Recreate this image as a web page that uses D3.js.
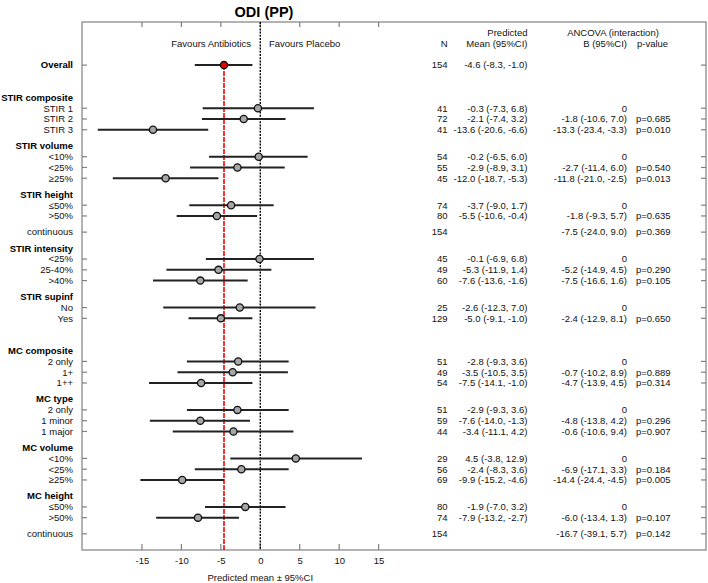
<!DOCTYPE html>
<html><head><meta charset="utf-8">
<script src="https://cdn.jsdelivr.net/npm/d3@7"></script>
<style>body{margin:0;background:#fff}svg{display:block;font-family:"Liberation Sans",Arial,sans-serif}</style>
</head><body><svg id="c" width="708" height="583"></svg>
<script>
// ---- data ----
const overallN = 154, overallMean = -4.6, overallLo = -8.3, overallHi = -1.0;
const overallText = "-4.6 (-8.3, -1.0)";
const groups = ["STIR composite","STIR volume","STIR height","STIR intensity","STIR supinf","MC composite","MC type","MC volume","MC height"];
const sectionStarts = ["STIR composite","MC composite"];
const rowGroup = ["STIR composite","STIR composite","STIR composite","STIR volume","STIR volume","STIR volume","STIR height","STIR height","STIR height","STIR intensity","STIR intensity","STIR intensity","STIR supinf","STIR supinf","MC composite","MC composite","MC composite","MC type","MC type","MC type","MC volume","MC volume","MC volume","MC height","MC height","MC height"];
const rowLabels = ["STIR 1","STIR 2","STIR 3","<10%","<25%","≥25%","≤50%",">50%","continuous","<25%","25-40%",">40%","No","Yes","2 only","1+","1++","2 only","1 minor","1 major","<10%","<25%","≥25%","≤50%",">50%","continuous"];
const nValues = [41,72,41,54,55,45,74,80,154,45,49,60,25,129,51,49,54,51,59,44,29,56,69,80,74,154];
const means = [-0.3,-2.1,-13.6,-0.2,-2.9,-12.0,-3.7,-5.5,null,-0.1,-5.3,-7.6,-2.6,-5.0,-2.8,-3.5,-7.5,-2.9,-7.6,-3.4,4.5,-2.4,-9.9,-1.9,-7.9,null];
const lower = [-7.3,-7.4,-20.6,-6.5,-8.9,-18.7,-9.0,-10.6,null,-6.9,-11.9,-13.6,-12.3,-9.1,-9.3,-10.5,-14.1,-9.3,-14.0,-11.1,-3.8,-8.3,-15.2,-7.0,-13.2,null];
const upper = [6.8,3.2,-6.6,6.0,3.1,-5.3,1.7,-0.4,null,6.8,1.4,-1.6,7.0,-1.0,3.6,3.5,-1.0,3.6,-1.3,4.2,12.9,3.6,-4.6,3.2,-2.7,null];
const bText = ["0","-1.8 (-10.6, 7.0)","-13.3 (-23.4, -3.3)","0","-2.7 (-11.4, 6.0)","-11.8 (-21.0, -2.5)","0","-1.8 (-9.3, 5.7)","-7.5 (-24.0, 9.0)","0","-5.2 (-14.9, 4.5)","-7.5 (-16.6, 1.6)","0","-2.4 (-12.9, 8.1)","0","-0.7 (-10.2, 8.9)","-4.7 (-13.9, 4.5)","0","-4.8 (-13.8, 4.2)","-0.6 (-10.6, 9.4)","0","-6.9 (-17.1, 3.3)","-14.4 (-24.4, -4.5)","0","-6.0 (-13.4, 1.3)","-16.7 (-39.1, 5.7)"];
const pText = ["","p=0.685","p=0.010","","p=0.540","p=0.013","","p=0.635","p=0.369","","p=0.290","p=0.105","","p=0.650","","p=0.889","p=0.314","","p=0.296","p=0.907","","p=0.184","p=0.005","","p=0.107","p=0.142"];
const xTicks = [-15,-10,-5,0,5,10,15];

// ---- layout of rows (in row units) ----
const fmt = v => (v<0?"-":"") + Math.abs(v).toFixed(1);
const rows = [];
const headers = [];
let pos = 4;
let prevGroup = null;
rowLabels.forEach((lab,i)=>{
  const g = rowGroup[i];
  if (g !== prevGroup) {
    pos += sectionStarts.includes(g) ? 4 : 2.5;
    headers.push({label:g, pos:pos-1});
    prevGroup = g;
  } else {
    pos += lab === "continuous" ? 1.5 : 1;
  }
  rows.push({label:lab, pos, n:nValues[i], mean:means[i], lo:lower[i], hi:upper[i],
    pred: means[i]==null ? "" : `${fmt(means[i])} (${fmt(lower[i])}, ${fmt(upper[i])})`,
    b:bText[i], p:pText[i]});
});
const overallPos = 4;
const bottomPos = pos + 1.5;

const svg = d3.select("#c");
const L = 82, R = 706, T = 22, B = 550;
const x = d3.scaleLinear().domain([-22.6, 56.5]).range([L, R]);
const y = d3.scaleLinear().domain([0, bottomPos]).range([T, B]);
const FS = 9.5;
const frameCol = "#808080";

// title
svg.append("text").attr("x", 264).attr("y", 12).attr("dy","0.35em").attr("text-anchor","middle")
  .attr("font-size",14.5).attr("font-weight","bold").text("ODI (PP)");

// frame
svg.append("rect").attr("x",L).attr("y",T).attr("width",R-L).attr("height",B-T)
  .attr("fill","none").attr("stroke",frameCol).attr("stroke-width",1.2);

// x ticks top and bottom (inward)
const gx = svg.append("g");
xTicks.forEach(t=>{
  gx.append("line").attr("x1",x(t)).attr("x2",x(t)).attr("y1",T).attr("y2",T+5).attr("stroke",frameCol).attr("stroke-width",1.2);
  gx.append("line").attr("x1",x(t)).attr("x2",x(t)).attr("y1",B).attr("y2",B-6).attr("stroke",frameCol).attr("stroke-width",1.2);
});
const axis = d3.axisBottom(x).tickValues(xTicks).tickSize(0).tickPadding(0).tickFormat(d=>String(d));
const ax = svg.append("g").attr("transform",`translate(0,${B+11})`).call(axis);
ax.select(".domain").remove();
ax.selectAll("text").attr("font-size",FS).attr("font-family","Liberation Sans, Arial, sans-serif").attr("fill","#111").attr("dy","0.35em");
svg.append("text").attr("x",x(0)).attr("y",578).attr("dy","0.35em").attr("text-anchor","middle")
  .attr("font-size",FS).attr("fill","#111").text("Predicted mean ± 95%CI");

// row ticks left and right
const allPos = [overallPos, ...rows.map(r=>r.pos)];
allPos.forEach(p=>{
  svg.append("line").attr("x1",L).attr("x2",L+5).attr("y1",y(p)).attr("y2",y(p)).attr("stroke",frameCol).attr("stroke-width",1.2);
  svg.append("line").attr("x1",R-5).attr("x2",R).attr("y1",y(p)).attr("y2",y(p)).attr("stroke",frameCol).attr("stroke-width",1.2);
});

// reference lines
svg.append("line").attr("x1",x(0)).attr("x2",x(0)).attr("y1",T).attr("y2",B)
  .attr("stroke","#000").attr("stroke-width",1.4).attr("stroke-dasharray","2,1.2");
svg.append("line").attr("x1",x(overallMean)).attr("x2",x(overallMean)).attr("y1",y(overallPos)).attr("y2",B)
  .attr("stroke","#ff0000").attr("stroke-width",1.6).attr("stroke-dasharray","5,1");

// header texts
const hdr = (tx,xx,yy,anchor)=>svg.append("text").attr("x",xx).attr("y",y(yy)).attr("dy","0.35em")
  .attr("text-anchor",anchor).attr("font-size",FS).attr("fill","#111").text(tx);
hdr("Favours Antibiotics", 251, 2, "end");
hdr("Favours Placebo", 269, 2, "start");
hdr("N", 447.5, 2, "end");
hdr("Predicted", 527.5, 1, "end");
hdr("Mean (95%CI)", 527.5, 2, "end");
hdr("ANCOVA (interaction)", 613, 1, "middle");
hdr("B (95%CI)", 627, 2, "end");
hdr("p-value", 637, 2, "start");

// row labels
svg.append("text").attr("x",73).attr("y",y(overallPos)).attr("dy","0.35em").attr("text-anchor","end")
  .attr("font-size",FS).attr("font-weight","bold").text("Overall");
headers.forEach(h=>{
  svg.append("text").attr("x",73).attr("y",y(h.pos)).attr("dy","0.35em").attr("text-anchor","end")
    .attr("font-size",FS).attr("font-weight","bold").text(h.label);
});
rows.forEach(r=>{
  svg.append("text").attr("x",73).attr("y",y(r.pos)).attr("dy","0.35em").attr("text-anchor","end")
    .attr("font-size",FS).attr("fill","#111").text(r.label);
});

// CI lines and points
const marks = [{pos:overallPos, mean:overallMean, lo:overallLo, hi:overallHi, overall:true}, ...rows.filter(r=>r.mean!=null)];
svg.append("g").selectAll("line").data(marks).join("line")
  .attr("x1",d=>x(d.lo)).attr("x2",d=>x(d.hi)).attr("y1",d=>y(d.pos)).attr("y2",d=>y(d.pos))
  .attr("stroke","#222").attr("stroke-width",2);
svg.append("g").selectAll("circle").data(marks).join("circle")
  .attr("cx",d=>x(d.mean)).attr("cy",d=>y(d.pos)).attr("r",3.6)
  .attr("fill",d=>d.overall?"#ee0000":"#a6a6a6").attr("stroke","#111").attr("stroke-width",1.3);

// text columns
const col = (tx,xx,p,anchor)=>svg.append("text").attr("x",xx).attr("y",y(p)).attr("dy","0.35em")
  .attr("text-anchor",anchor).attr("font-size",FS).attr("fill","#111").text(tx);
col(overallN, 447.5, overallPos, "end");
col(overallText, 527.5, overallPos, "end");
rows.forEach(r=>{
  col(r.n, 447.5, r.pos, "end");
  if (r.pred) col(r.pred, 527.5, r.pos, "end");
  col(r.b, 627, r.pos, "end");
  if (r.p) col(r.p, 636, r.pos, "start");
});
</script></body></html>
